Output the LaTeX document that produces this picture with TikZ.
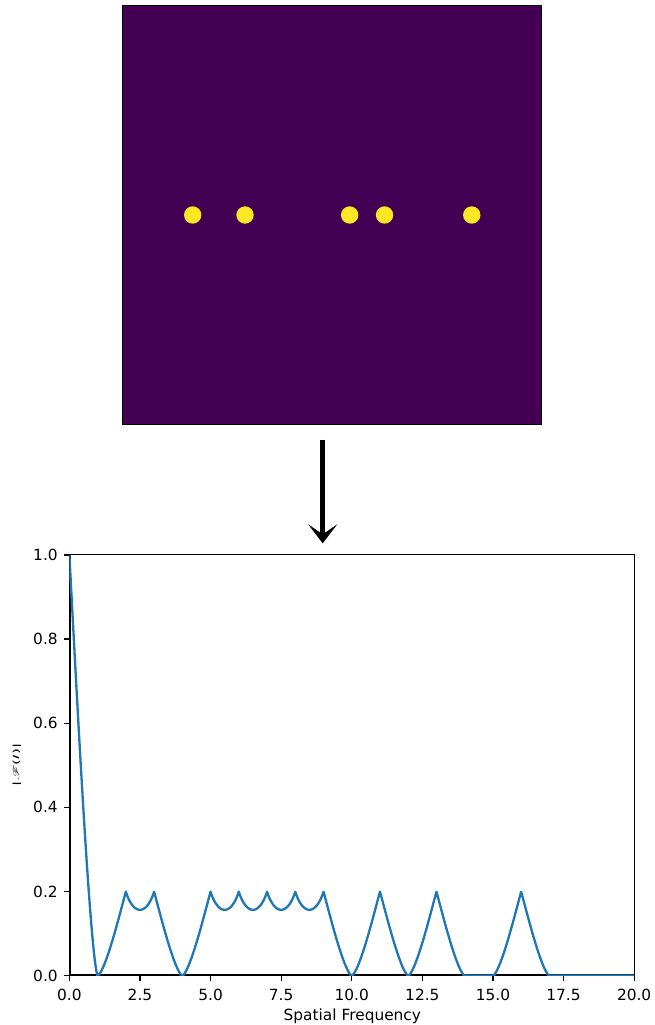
\documentclass[tikz,border=0pt]{standalone}
\usepackage{fontspec}
\setmainfont{DejaVu Sans}
\usepackage{mathrsfs}
\usepackage{graphicx}
\usepackage{tikz}
\usetikzlibrary{arrows.meta,positioning}
\definecolor{viridislow}{HTML}{440154}
\definecolor{viridishigh}{HTML}{FDE725}
\definecolor{mplblue}{HTML}{1F77B4}
\tikzset{
    font=\fontsize{10}{12}\selectfont,
    %Define style for the image
    bild/.style={
           rectangle,
           fill=viridislow,
           draw=black, line width=0.8pt,
           minimum width=272.35pt,
           minimum height=272.1pt,
           inner sep=0pt},
    % Define style for the dots
    punkt/.style={circle,fill=viridishigh,minimum size=11.3pt,inner sep=0pt},
    % Define style for the axes box
    achse/.style={
           rectangle,
           draw=black, line width=0.8pt,
           minimum width=367.06pt,
           minimum height=273.46pt,
           inner sep=0pt},
    % Define tick style
    strich/.style={line width=0.8pt},
    % Define arrow style
    pfeil/.style={
	   -{Stealth[length=12.4pt,width=18.9pt,inset=6.5pt]},
	   line width=3.6pt},
    % Define curve style
    kurve/.style={draw=mplblue,line width=1.5pt,line join=round},
    % overlap of two discs and the sum over all spacings
    declare function={
        ov(\u)=2/pi*(rad(acos(min(\u,1)))-min(\u,1)*sqrt(max(0,1-\u*\u)));
        spek(\x)=ov(abs(\x))+0.2*(ov(abs(\x-2))+ov(abs(\x-3))+ov(abs(\x-5))
                 +ov(abs(\x-6))+ov(abs(\x-7))+ov(abs(\x-8))+ov(abs(\x-9))
                 +ov(abs(\x-11))+ov(abs(\x-13))+ov(abs(\x-16)));
    }
}

\begin{document}
\begin{tikzpicture}[x=0.65pt,y=-0.65pt]
  \useasboundingbox (0,0) rectangle (654,1025);
  \node[bild] (pic) at (332.2,215) {};
  \foreach \p in {0,3,9,11,16}
    \node[punkt] (P\p) at (192.7+17.44*\p,215) {};
  \node[achse] (ax) at (352.35,764.65) {};
  \coordinate (a0) at ([shift={(-9.5,14.7)}]pic.south);
  \coordinate (a1) at ([yshift=6.7pt]a0 |- ax.north);
  \draw[pfeil] (a0) -- (a1);
  \begin{scope}[shift={(ax.south west)},x=18.354pt,y=273.46pt]
    \foreach \t in {0.0,2.5,5.0,7.5,10.0,12.5,15.0,17.5,20.0}
      \draw[strich] (\t,0) -- ++(0,-3.5pt) node[below=5.1pt,inner sep=0pt] {\t};
    \foreach \t in {0.0,0.2,0.4,0.6,0.8,1.0}
      \draw[strich] (0,\t) -- ++(-3.5pt,0) node[left=3.7pt,inner sep=0pt] {\t};
    \begin{scope}
      \clip (0,0) rectangle (20,1);
      \draw[kurve] plot[domain=0:20,samples=801] (\x,{spek(\x)});
    \end{scope}
  \end{scope}
  \node[anchor=base] (xlab) at (352.35,1020.5) {Spatial Frequency};
  \node[rotate=90] (ylab) at (17,764.7) {\scalebox{1}[0.55]{|$\mathscr{F}$(\textit{I})|}};
\end{tikzpicture}
\end{document}
